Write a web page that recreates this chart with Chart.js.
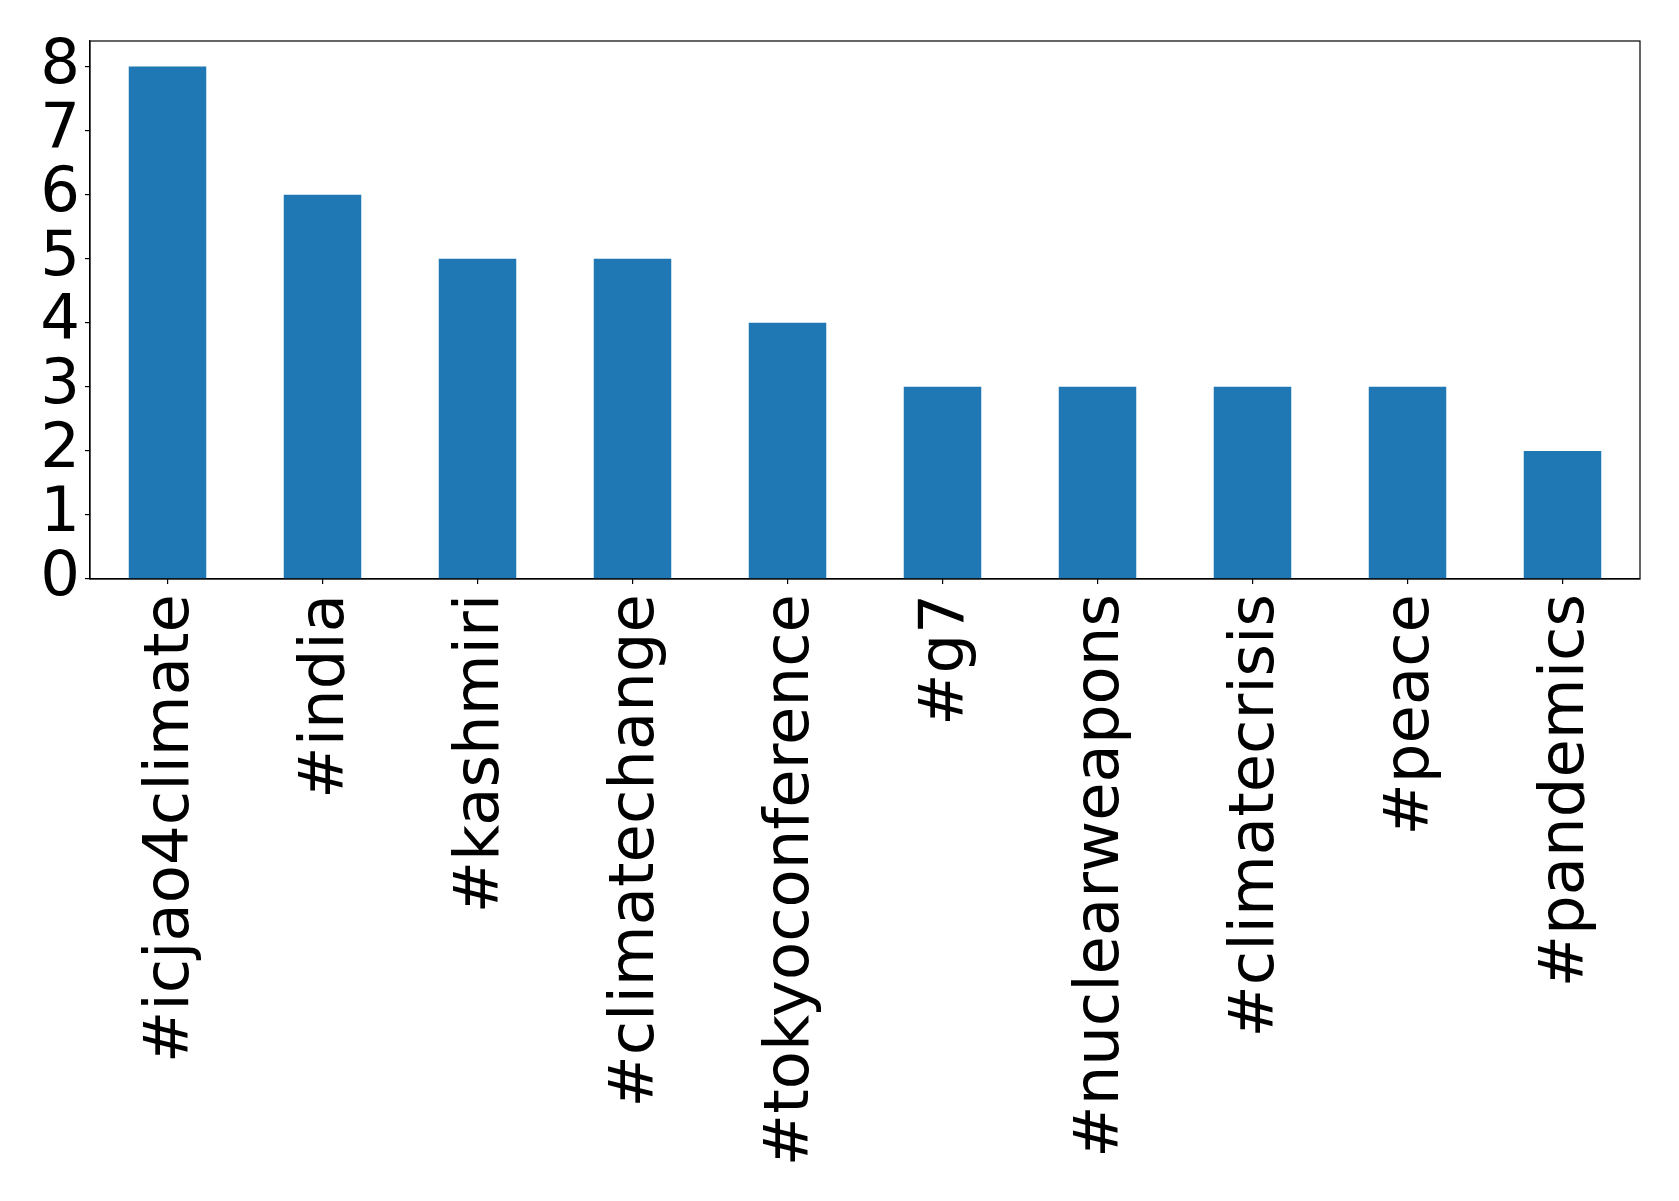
<!DOCTYPE html>
<html>
<head>
<meta charset="utf-8">
<script src="https://cdn.jsdelivr.net/npm/chart.js@4"></script>
<style>
  html, body { margin: 0; padding: 0; background: #fff; }
  canvas { display: block; }
</style>
</head>
<body>
<canvas id="hashtagChart" width="1679" height="1201"></canvas>
<script>
// Hashtag counts
const hashtags = ['#icjao4climate', '#india', '#kashmiri', '#climatechange', '#tokyoconference',
    '#g7', '#nuclearweapons', '#climatecrisis', '#peace', '#pandemics'];
const counts = [8, 6, 5, 5, 4, 3, 3, 3, 3, 2];
const yTicks = [0, 1, 2, 3, 4, 5, 6, 7, 8];

// matplotlib draws all four spines, chart.js only left and bottom
const framePlugin = {
    id: 'frame',
    afterDatasetsDraw(chart) {
        const a = chart.chartArea;
        const ctx = chart.ctx;
        ctx.save();
        ctx.strokeStyle = '#000';
        ctx.lineWidth = 1.2;
        ctx.strokeRect(a.left, a.top, a.right - a.left, a.bottom - a.top);
        ctx.restore();
    }
};

const ctx = document.getElementById('hashtagChart').getContext('2d');
new Chart(ctx, {
    type: 'bar',
    data: {
        labels: hashtags,
        datasets: [{
            data: counts,
            backgroundColor: '#1f77b4',
            categoryPercentage: 1.0,
            barPercentage: 0.5
        }]
    },
    options: {
        responsive: false,
        animation: false,
        layout: {
            padding: { top: 41, right: 39, left: 0, bottom: 0 }
        },
        plugins: {
            legend: { display: false },
            tooltip: { enabled: false }
        },
        scales: {
            x: {
                grid: {
                    offset: false,
                    drawOnChartArea: false,
                    color: '#000',
                    tickLength: 5,
                    lineWidth: 1.2
                },
                border: { color: '#000', width: 1.2 },
                ticks: {
                    autoSkip: false,
                    maxRotation: 90,
                    minRotation: 90,
                    padding: 10,
                    labelOffset: 4,
                    color: '#000',
                    font: { family: 'DejaVu Sans', size: 62.5 }
                },
                afterFit(scale) { scale.height = 622; }
            },
            y: {
                min: 0,
                max: 8.4,
                afterBuildTicks(scale) {
                    scale.ticks = yTicks.map(v => ({ value: v }));
                },
                grid: {
                    drawOnChartArea: false,
                    color: '#000',
                    tickLength: 5,
                    lineWidth: 1.2
                },
                border: { color: '#000', width: 1.2 },
                ticks: {
                    autoSkip: false,
                    padding: 5,
                    color: '#000',
                    font: { family: 'DejaVu Sans', size: 62.5, lineHeight: 1 }
                },
                afterFit(scale) { scale.width = 90; }
            }
        }
    },
    plugins: [framePlugin]
});
</script>
</body>
</html>
